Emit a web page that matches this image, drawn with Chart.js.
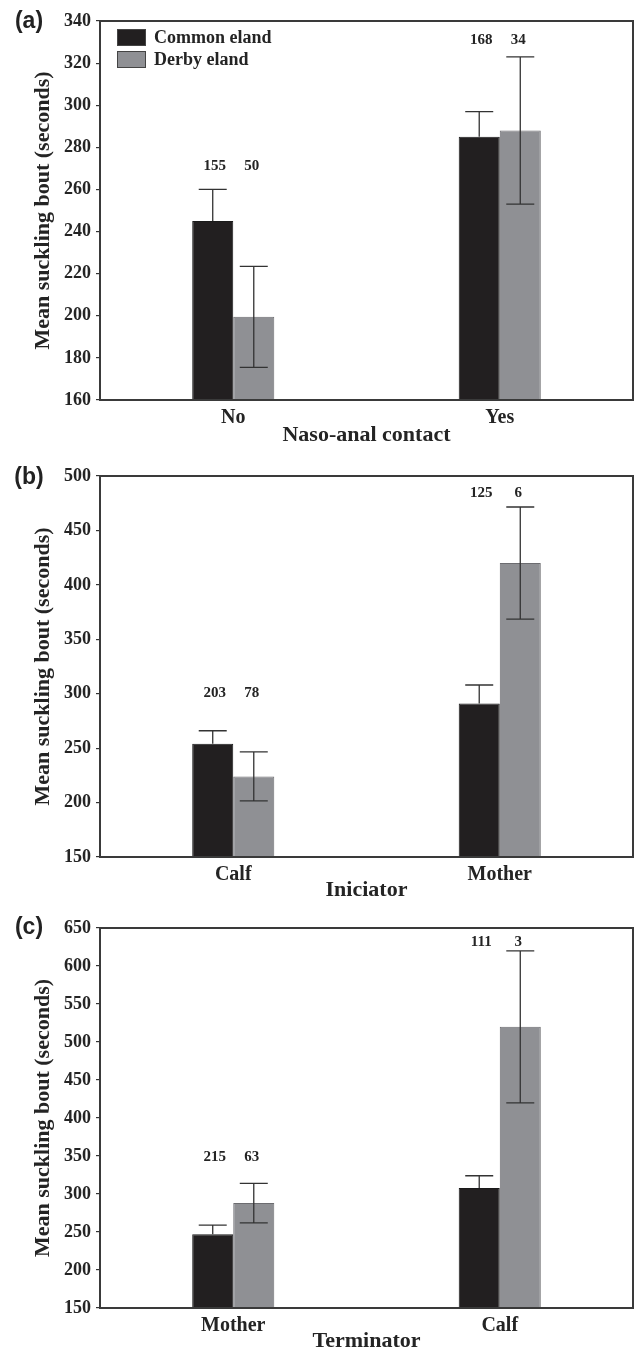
<!DOCTYPE html>
<html>
<head>
<meta charset="utf-8">
<script src="https://cdn.jsdelivr.net/npm/chart.js@4.4.1/dist/chart.umd.min.js"></script>
<style>
  html, body { margin: 0; padding: 0; background: #ffffff; }
  #wrap { position: relative; width: 635px; height: 1349px; overflow: hidden; }
  .panel { position: absolute; left: 0; width: 635px; }
</style>
</head>
<body>
<div id="wrap">
  <div class="panel" style="top:0px;height:450px"><canvas id="cA"></canvas></div>
  <div class="panel" style="top:450px;height:450px"><canvas id="cB"></canvas></div>
  <div class="panel" style="top:900px;height:449px"><canvas id="cC"></canvas></div>
</div>
<script>
// ---------- DATA ----------
const seriesNames = ['Common eland', 'Derby eland'];

// Panel (a) Naso-anal contact
const categoriesA = ['No', 'Yes'];
const commonA = [245, 285];
const commonErrA = [15, 12];
const derbyA = [199.5, 288];
const derbyErrA = [24, 35];
const commonNA = [155, 168];
const derbyNA = [50, 34];
const yTicksA = [160, 180, 200, 220, 240, 260, 280, 300, 320, 340];

// Panel (b) Iniciator
const categoriesB = ['Calf', 'Mother'];
const commonB = [254, 291];
const commonErrB = [12, 17];
const derbyB = [224, 420];
const derbyErrB = [22.5, 51.5];
const commonNB = [203, 125];
const derbyNB = [78, 6];
const yTicksB = [150, 200, 250, 300, 350, 400, 450, 500];

// Panel (c) Terminator
const categoriesC = ['Mother', 'Calf'];
const commonC = [247, 308];
const commonErrC = [12, 16];
const derbyC = [288, 520];
const derbyErrC = [26, 100];
const commonNC = [215, 111];
const derbyNC = [63, 3];
const yTicksC = [150, 200, 250, 300, 350, 400, 450, 500, 550, 600, 650];

// ---------- STYLE ----------
const BLACK = '#221f20';
const GRAY = '#8f9094';
const SERIF = '"Liberation Serif", "Times New Roman", serif';
const INK = '#242424';

const panelPlugin = {
  id: 'panelDecor',
  afterDatasetsDraw(chart, args, opts) {
    const ctx = chart.ctx;
    const y = chart.scales.y;
    // error bars
    ctx.save();
    ctx.strokeStyle = '#333333';
    ctx.lineWidth = 1.3;
    chart.data.datasets.forEach((ds, di) => {
      const meta = chart.getDatasetMeta(di);
      meta.data.forEach((el, i) => {
        const v = ds.data[i], e = ds.errors[i];
        const yt = y.getPixelForValue(v + e);
        const yb = y.getPixelForValue(v - e);
        const x = el.x;
        const cap = 14;
        ctx.beginPath();
        ctx.moveTo(x - cap, yt); ctx.lineTo(x + cap, yt);
        if (ds.lowerVisible) {
          ctx.moveTo(x, yt); ctx.lineTo(x, yb);
          ctx.moveTo(x - cap, yb); ctx.lineTo(x + cap, yb);
        } else {
          ctx.moveTo(x, yt); ctx.lineTo(x, y.getPixelForValue(v));
        }
        ctx.stroke();
      });
    });
    ctx.restore();

    // sample sizes
    ctx.save();
    ctx.fillStyle = INK;
    ctx.font = 'bold 15px ' + SERIF;
    ctx.textAlign = 'center';
    ctx.textBaseline = 'middle';
    chart.data.datasets.forEach((ds, di) => {
      const meta = chart.getDatasetMeta(di);
      meta.data.forEach((el, i) => {
        const ly = y.getPixelForValue(opts.nAnchor[i]);
        ctx.fillText(String(ds.counts[i]), el.x + (di === 0 ? 2 : -2), ly);
      });
    });
    ctx.restore();

    // frame
    const a = chart.chartArea;
    ctx.save();
    ctx.strokeStyle = '#3a3a3a';
    ctx.lineWidth = 2;
    ctx.strokeRect(a.left, a.top, a.right - a.left, a.bottom - a.top);
    ctx.restore();

    // panel letter
    ctx.save();
    ctx.fillStyle = '#222';
    ctx.font = 'bold 23px "Liberation Sans", Arial, sans-serif';
    ctx.textAlign = 'center';
    ctx.textBaseline = 'middle';
    ctx.fillText(opts.letter, 29, opts.letterY);
    ctx.restore();

    // legend
    if (opts.legend) {
      ctx.save();
      chart.data.datasets.forEach((ds, di) => {
        const bx = a.left + 17, by = a.top + 8 + di * 22;
        ctx.fillStyle = ds.backgroundColor;
        ctx.fillRect(bx, by, 29, 17);
        ctx.strokeStyle = '#444';
        ctx.lineWidth = 1;
        ctx.strokeRect(bx + 0.5, by + 0.5, 28, 16);
        ctx.fillStyle = INK;
        ctx.font = 'bold 18px ' + SERIF;
        ctx.textAlign = 'left';
        ctx.textBaseline = 'middle';
        ctx.fillText(ds.label, bx + 37, by + 9);
      });
      ctx.restore();
    }
  }
};

function makeChart(id, cats, cv, ce, cn, dv, de, dn, ticks, xTitle, cfg) {
  const tmin = ticks[0], tmax = ticks[ticks.length - 1];
  return new Chart(document.getElementById(id), {
    type: 'bar',
    data: {
      labels: cats,
      datasets: [
        { label: seriesNames[0], data: cv, errors: ce, counts: cn, lowerVisible: false,
          backgroundColor: BLACK, borderColor: '#1a1a1a', borderWidth: 1 },
        { label: seriesNames[1], data: dv, errors: de, counts: dn, lowerVisible: true,
          backgroundColor: GRAY, borderColor: '#6c6c70', borderWidth: 1 }
      ]
    },
    options: {
      responsive: true,
      maintainAspectRatio: false,
      animation: false,
      layout: { padding: { top: cfg.top, right: 2, left: 0, bottom: 0 } },
      plugins: {
        legend: { display: false },
        tooltip: { enabled: false },
        panelDecor: cfg
      },
      datasets: { bar: { categoryPercentage: 0.308, barPercentage: 1.0 } },
      scales: {
        x: {
          grid: { display: false, drawTicks: false, tickLength: 0 },
          border: { display: false },
          ticks: { color: INK, font: { family: SERIF, size: 20, weight: 'bold' }, padding: 6 },
          title: { display: true, text: xTitle, color: INK,
                   font: { family: SERIF, size: 22, weight: 'bold' },
                   padding: { top: 0, bottom: cfg.xTitlePad } },
          afterFit: (s) => { s.height = cfg.xh; }
        },
        y: {
          min: tmin, max: tmax,
          afterBuildTicks: (s) => { s.ticks = ticks.map(v => ({ value: v })); },
          grid: { drawOnChartArea: false, drawTicks: true, tickLength: 4, color: '#333', lineWidth: 1.2 },
          border: { display: false },
          ticks: { color: INK, font: { family: SERIF, size: 18, weight: 'bold' }, padding: 5 },
          title: { display: true, text: 'Mean suckling bout (seconds)', color: INK,
                   font: { family: SERIF, size: 22, weight: 'bold' },
                   padding: { top: 30, bottom: 0 } },
          afterFit: (s) => { s.width = 100; }
        }
      }
    },
    plugins: [panelPlugin]
  });
}

makeChart('cA', categoriesA, commonA, commonErrA, commonNA, derbyA, derbyErrA, derbyNA, yTicksA,
  'Naso-anal contact',
  { top: 21, xh: 50, xTitlePad: 1, letter: '(a)', letterY: 22, legend: true, nAnchor: [271, 331] });

makeChart('cB', categoriesB, commonB, commonErrB, commonNB, derbyB, derbyErrB, derbyNB, yTicksB,
  'Iniciator',
  { top: 26, xh: 43, xTitlePad: -4, letter: '(b)', letterY: 28, legend: false, nAnchor: [301, 484] });

makeChart('cC', categoriesC, commonC, commonErrC, commonNC, derbyC, derbyErrC, derbyNC, yTicksC,
  'Terminator',
  { top: 28, xh: 41, xTitlePad: -6, letter: '(c)', letterY: 28, legend: false, nAnchor: [349, 631] });
</script>
</body>
</html>
